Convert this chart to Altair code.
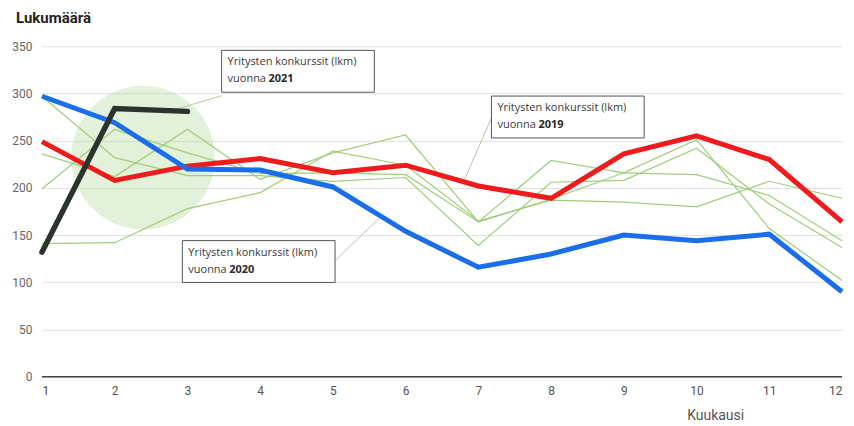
import altair as alt
import pandas as pd

# ---- data ----
months = list(range(1, 13))
v2019 = [249, 208, 223, 231, 216, 224, 202, 189, 236, 255, 230, 164]
v2020 = [297, 269, 220, 219, 201, 154, 116, 130, 150, 144, 151, 90]
months2021 = [1, 2, 3]
v2021 = [132, 284, 281]
g_a = [297, 232, 213, 213, 207, 211, 139, 206, 208, 242, 183, 137]
g_b = [236, 212, 262, 209, 237, 256, 164, 229, 216, 251, 157, 102]
g_c = [199, 262, 237, 215, 216, 214, 164, 188, 216, 214, 192, 144]
g_d = [141, 142, 178, 195, 239, 224, 165, 187, 185, 180, 207, 189]

ann_years = ["2021", "2020", "2019"]
ann_x0 = [3.47, 2.93, 7.18]
ann_x1 = [5.57, 5.03, 9.28]
ann_top = [345.6, 144.2, 297.2]
ann_bottom = [301.3, 99.9, 252.9]
con_x = [3.47, 5.03, 7.18]
con_y = [297.6, 123, 274]
con_x2 = [2.66, 5.64, 6.81]
con_y2 = [279, 168, 209]

circle_x = [2.39]
circle_y = [232]

FONT = "Roboto"
TXT = "Open Sans"

xs = alt.Scale(domain=[1, 12], nice=False, zero=False)
ys = alt.Scale(domain=[0, 350], nice=False)

xaxis = alt.Axis(values=months, format="d", title="Kuukausi", grid=False, domain=False,
                 ticks=False, labelPadding=9, labelFontSize=12, labelColor="#555",
                 labelFont=FONT, titleFont=FONT, titleFontSize=14, titleFontWeight="normal",
                 titleColor="#555", titleX=674, titleY=32, titleBaseline="top",
                 titleAnchor="start", titleAlign="center")
yaxis = alt.Axis(values=list(range(0, 351, 50)), title=None, grid=True, gridColor="#e2e2e2",
                 domain=False, ticks=False, labelPadding=10, labelFontSize=12,
                 labelColor="#666", labelFont=FONT)

green_df = pd.DataFrame({
    "month": months * 4,
    "value": g_a + g_b + g_c + g_d,
    "series": ["a"] * 12 + ["b"] * 12 + ["c"] * 12 + ["d"] * 12,
})
df19 = pd.DataFrame({"month": months, "value": v2019})
df20 = pd.DataFrame({"month": months, "value": v2020})
df21 = pd.DataFrame({"month": months2021, "value": v2021})

circle = alt.Chart(pd.DataFrame({"month": circle_x, "value": circle_y})).mark_circle(
    size=20700, color="#a9d18e", opacity=0.33
).encode(x=alt.X("month:Q", scale=xs, axis=xaxis), y=alt.Y("value:Q", scale=ys, axis=yaxis))

greens = alt.Chart(green_df).mark_line(color="#9fcd78", strokeWidth=1.2).encode(
    x=alt.X("month:Q", scale=xs), y=alt.Y("value:Q", scale=ys), detail="series:N")

con_df = pd.DataFrame({"x": con_x, "y": con_y, "x2": con_x2, "y2": con_y2})
connectors = alt.Chart(con_df).mark_rule(color="#b8c8a8", strokeWidth=1).encode(
    x=alt.X("x:Q", scale=xs), y=alt.Y("y:Q", scale=ys), x2="x2:Q", y2="y2:Q")

zero = alt.Chart(pd.DataFrame({"v": [0]})).mark_rule(color="#444", strokeWidth=1.5).encode(
    y=alt.Y("v:Q", scale=ys))

red = alt.Chart(df19).mark_line(color="#ee1c1c", strokeWidth=5).encode(
    x=alt.X("month:Q", scale=xs), y=alt.Y("value:Q", scale=ys))
blue = alt.Chart(df20).mark_line(color="#1a6fe8", strokeWidth=5).encode(
    x=alt.X("month:Q", scale=xs), y=alt.Y("value:Q", scale=ys))
black = alt.Chart(df21).mark_line(color="#2c322c", strokeWidth=5.5, strokeCap="round").encode(
    x=alt.X("month:Q", scale=xs), y=alt.Y("value:Q", scale=ys))

ann_df = pd.DataFrame({"year": ann_years, "x0": ann_x0, "x1": ann_x1,
                       "top": ann_top, "bottom": ann_bottom,
                       "l1": ["Yritysten konkurssit (lkm)"] * 3, "l2": ["vuonna"] * 3})
boxes = alt.Chart(ann_df).mark_rect(fill="white", stroke="#555", strokeWidth=1).encode(
    x=alt.X("x0:Q", scale=xs), x2="x1:Q", y=alt.Y("top:Q", scale=ys), y2="bottom:Q")
line1 = alt.Chart(ann_df).mark_text(align="left", baseline="middle", dx=6, dy=12,
                                    font=TXT, fontSize=11, color="#3a3a3a").encode(
    x=alt.X("x0:Q", scale=xs), y=alt.Y("top:Q", scale=ys), text="l1:N")
line2 = alt.Chart(ann_df).mark_text(align="left", baseline="middle", dx=6, dy=29,
                                    font=TXT, fontSize=11, color="#3a3a3a").encode(
    x=alt.X("x0:Q", scale=xs), y=alt.Y("top:Q", scale=ys), text="l2:N")
line2b = alt.Chart(ann_df).mark_text(align="left", baseline="middle", dx=47, dy=29,
                                     font=TXT, fontSize=11, fontWeight="bold",
                                     color="#2a2a2a").encode(
    x=alt.X("x0:Q", scale=xs), y=alt.Y("top:Q", scale=ys), text="year:N")

title = alt.Chart(pd.DataFrame({"t": ["Lukumäärä"]})).mark_text(
    align="left", baseline="middle", font=FONT, fontSize=15, fontWeight="bold", color="#222"
).encode(x=alt.value(-26), y=alt.value(-28), text="t:N")

chart = alt.layer(circle, greens, connectors, zero, red, blue, black,
                  boxes, line1, line2, line2b, title).properties(
    width=801, height=331,
    autosize=alt.AutoSizeParams(type="none"),
    padding={"left": 34, "top": 38, "right": 4, "bottom": 48},
).configure_view(stroke=None)

chart.save("out.html", embed_options={"renderer": "svg", "actions": False})
